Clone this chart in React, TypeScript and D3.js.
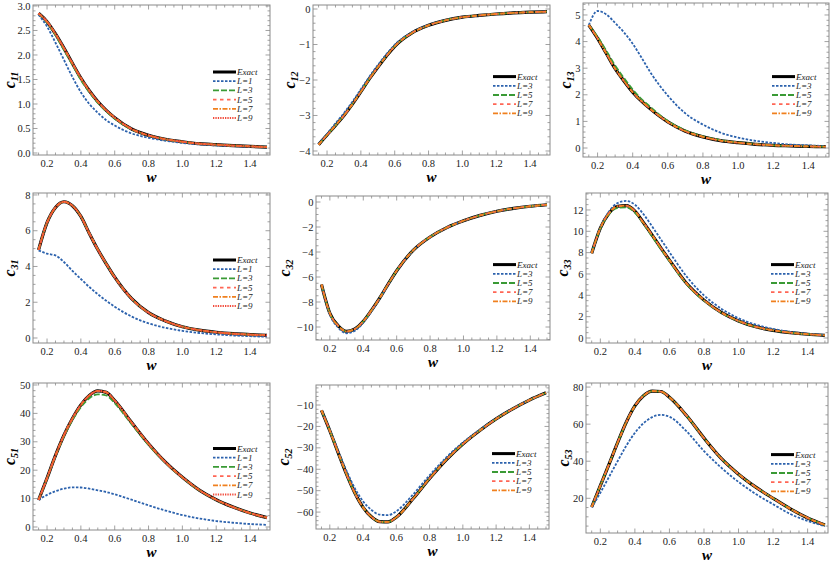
import * as d3 from "d3";
import { useRef, useEffect } from "react";

// sample points in w shared by every curve
const W = [0.15, 0.2, 0.25, 0.3, 0.35, 0.4, 0.45, 0.5, 0.55, 0.6, 0.7, 0.8, 0.9, 1.0, 1.1, 1.2, 1.3, 1.4, 1.5];

// c11
const c11Exact = [2.85, 2.68, 2.43, 2.14, 1.83, 1.53, 1.27, 1.05, 0.87, 0.72, 0.49, 0.36, 0.28, 0.23, 0.19, 0.17, 0.15, 0.135, 0.12];
const c11L1 = [2.82, 2.58, 2.25, 1.9, 1.55, 1.24, 1.0, 0.82, 0.67, 0.56, 0.4, 0.31, 0.25, 0.205, 0.175, 0.155, 0.14, 0.127, 0.117];
const c11L3 = [2.85, 2.66, 2.4, 2.1, 1.8, 1.49, 1.24, 1.02, 0.85, 0.7, 0.48, 0.355, 0.277, 0.228, 0.19, 0.17, 0.15, 0.135, 0.12];
const c11L5 = [2.85, 2.68, 2.43, 2.14, 1.83, 1.53, 1.27, 1.05, 0.87, 0.72, 0.49, 0.36, 0.28, 0.23, 0.19, 0.17, 0.15, 0.135, 0.12];

// c12
const c12Exact = [-3.82, -3.55, -3.28, -3.0, -2.68, -2.33, -1.97, -1.64, -1.33, -1.05, -0.68, -0.46, -0.32, -0.23, -0.18, -0.14, -0.11, -0.09, -0.075];
const c12L3 = [-3.8, -3.52, -3.22, -2.93, -2.61, -2.26, -1.91, -1.58, -1.28, -1.01, -0.66, -0.45, -0.315, -0.23, -0.18, -0.14, -0.11, -0.09, -0.075];

// c13
const c13Exact = [4.62, 4.12, 3.55, 2.98, 2.52, 2.1, 1.76, 1.47, 1.21, 0.98, 0.63, 0.42, 0.28, 0.2, 0.14, 0.1, 0.08, 0.06, 0.05];
const c13L3 = [4.62, 5.15, 5.02, 4.7, 4.35, 3.92, 3.4, 2.85, 2.38, 1.97, 1.3, 0.88, 0.58, 0.39, 0.27, 0.19, 0.13, 0.1, 0.07];
const c13L5 = [4.62, 4.18, 3.65, 3.1, 2.63, 2.2, 1.84, 1.55, 1.26, 1.02, 0.66, 0.44, 0.3, 0.21, 0.15, 0.1, 0.08, 0.06, 0.05];

// c31
const c31Exact = [4.93, 6.45, 7.3, 7.62, 7.4, 6.8, 5.85, 4.95, 4.15, 3.4, 2.2, 1.42, 0.95, 0.63, 0.44, 0.32, 0.24, 0.19, 0.15];
const c31L1 = [4.9, 4.72, 4.62, 4.25, 3.75, 3.3, 2.85, 2.45, 2.08, 1.75, 1.2, 0.82, 0.57, 0.4, 0.28, 0.2, 0.14, 0.1, 0.07];

// c32
const c32Exact = [-6.6, -8.9, -9.9, -10.35, -10.15, -9.55, -8.65, -7.65, -6.55, -5.5, -3.85, -2.8, -2.05, -1.5, -1.07, -0.74, -0.51, -0.34, -0.22];
const c32L3 = [-6.6, -9.0, -10.05, -10.5, -10.3, -9.65, -8.72, -7.7, -6.58, -5.52, -3.86, -2.8, -2.05, -1.5, -1.07, -0.74, -0.51, -0.34, -0.22];

// c33
const c33Exact = [7.95, 10.3, 11.7, 12.35, 12.4, 11.9, 10.8, 9.65, 8.45, 7.3, 5.1, 3.55, 2.4, 1.6, 1.05, 0.72, 0.5, 0.35, 0.25];
const c33L3 = [7.95, 10.3, 11.85, 12.65, 12.85, 12.5, 11.6, 10.45, 9.25, 8.05, 5.75, 4.0, 2.75, 1.85, 1.25, 0.85, 0.58, 0.4, 0.28];
const c33L5 = [7.95, 10.25, 11.6, 12.2, 12.25, 11.75, 10.7, 9.5, 8.35, 7.2, 5.05, 3.5, 2.37, 1.58, 1.04, 0.71, 0.5, 0.35, 0.25];

// c51
const c51Exact = [9.5, 17.2, 25.2, 32.3, 38.2, 43.0, 46.3, 47.9, 47.4, 44.5, 36.8, 29.3, 22.8, 17.5, 13.0, 9.6, 7.0, 4.9, 3.3];
const c51L1 = [9.5, 11.3, 12.6, 13.5, 13.95, 13.9, 13.5, 12.9, 12.3, 11.5, 9.6, 7.6, 5.8, 4.2, 3.0, 2.1, 1.5, 1.05, 0.75];
const c51L3 = [9.5, 17.1, 25.0, 31.9, 37.6, 42.2, 45.3, 46.7, 46.3, 43.6, 36.2, 28.9, 22.6, 17.4, 12.9, 9.5, 7.0, 4.9, 3.3];

// c52
const c52Exact = [-12.5, -22.0, -32.2, -42.2, -51.0, -57.8, -62.2, -64.5, -64.6, -62.4, -53.8, -44.3, -35.6, -28.2, -22.0, -16.5, -11.8, -7.7, -4.3];
const c52L3 = [-12.5, -21.6, -31.3, -40.6, -48.8, -55.0, -59.0, -61.2, -61.4, -59.6, -51.8, -42.8, -34.5, -27.5, -21.6, -16.3, -11.7, -7.7, -4.3];

// c53
const c53Exact = [15.3, 26.8, 38.3, 50.0, 61.0, 69.8, 75.3, 77.8, 77.6, 74.5, 64.5, 52.5, 41.5, 33.0, 26.0, 20.0, 14.3, 9.4, 5.6];
const c53L3 = [15.0, 23.0, 31.5, 40.0, 48.3, 55.3, 60.5, 63.8, 65.0, 64.0, 56.0, 45.5, 36.5, 28.8, 22.3, 16.8, 11.5, 7.8, 5.0];

// tick values
const X_TICKS = [0.2, 0.4, 0.6, 0.8, 1.0, 1.2, 1.4];
const Y_TICKS = [
  [0, 0.5, 1, 1.5, 2, 2.5, 3],
  [-4, -3, -2, -1, 0],
  [0, 1, 2, 3, 4, 5],
  [0, 2, 4, 6, 8],
  [-10, -8, -6, -4, -2, 0],
  [0, 2, 4, 6, 8, 10, 12],
  [0, 10, 20, 30, 40, 50],
  [-60, -50, -40, -30, -20, -10],
  [20, 40, 60, 80],
];
const Y_MINOR = [0.1, 0.2, 0.2, 0.5, 0.5, 0.5, 2, 2, 5];
const Y_FORMAT = [".1f", "d", "d", "d", "d", "d", "d", "d", "d"];
const SUBS = ["11", "12", "13", "31", "32", "33", "51", "52", "53"];

// (label, values) per panel; Exact is drawn first, then approximants
const SERIES = [
  [["L=1", c11L1], ["L=3", c11L3], ["L=5", c11L5], ["L=7", c11Exact], ["L=9", c11Exact]],
  [["L=3", c12L3], ["L=5", c12Exact], ["L=7", c12Exact], ["L=9", c12Exact]],
  [["L=3", c13L3], ["L=5", c13L5], ["L=7", c13Exact], ["L=9", c13Exact]],
  [["L=1", c31L1], ["L=3", c31Exact], ["L=5", c31Exact], ["L=7", c31Exact], ["L=9", c31Exact]],
  [["L=3", c32L3], ["L=5", c32Exact], ["L=7", c32Exact], ["L=9", c32Exact]],
  [["L=3", c33L3], ["L=5", c33L5], ["L=7", c33Exact], ["L=9", c33Exact]],
  [["L=1", c51L1], ["L=3", c51L3], ["L=5", c51Exact], ["L=7", c51Exact], ["L=9", c51Exact]],
  [["L=3", c52L3], ["L=5", c52Exact], ["L=7", c52Exact], ["L=9", c52Exact]],
  [["L=3", c53L3], ["L=5", c53Exact], ["L=7", c53Exact], ["L=9", c53Exact]],
];
const EXACT = [c11Exact, c12Exact, c13Exact, c31Exact, c32Exact, c33Exact, c51Exact, c52Exact, c53Exact];

// layout
const X_DOMAIN = [0.117, 1.518];
const FRAMES = [
  { l: 33, r: 270, t: 5, b: 155 }, { l: 313, r: 550, t: 5, b: 155 }, { l: 583, r: 829, t: 3, b: 157 },
  { l: 33, r: 270, t: 193, b: 343 }, { l: 316, r: 550, t: 196, b: 340 }, { l: 586, r: 828, t: 193, b: 343 },
  { l: 33, r: 270, t: 383, b: 530 }, { l: 316, r: 549, t: 385, b: 529 }, { l: 586, r: 828, t: 383, b: 533 },
];
const Y_DOMAINS = [
  [-0.041, 3.02], [-4.113, 0.113], [-0.338, 5.45],
  [-0.28, 8.11], [-11.04, 0.48], [-0.47, 13.59],
  [-1.06, 50.7], [-67.9, -0.65], [1.27, 82.2],
];
const YLABEL_X = [14.5, 295, 571, 14.5, 290, 568, 14.5, 289, 569];

const COLORS = ["#2c62ad", "#3a9a35", "#ff6655", "#f0801e", "#f24a3a"];
const DASHES = ["2.5,1.5", "6,2", "3.5,3.5", "5,1.5,1.5,1.5", "1.3,1.1"];
const FONT = "'Liberation Serif', 'Times New Roman', serif";

function App() {
  const svgRef = useRef(null);

  useEffect(() => {
    const svg = d3.select(svgRef.current);
    svg.selectAll("*").remove();

    FRAMES.forEach((f, i) => {
      const x = d3.scaleLinear().domain(X_DOMAIN).range([f.l, f.r]);
      const y = d3.scaleLinear().domain(Y_DOMAINS[i]).range([f.b, f.t]);
      const g = svg.append("g");

      const clipId = `clip${i}`;
      g.append("clipPath").attr("id", clipId)
        .append("rect").attr("x", f.l).attr("y", f.t).attr("width", f.r - f.l).attr("height", f.b - f.t);

      const line = d3.line()
        .x((d) => x(d[0]))
        .y((d) => y(d[1]))
        .curve(d3.curveMonotoneX);

      const curves = g.append("g").attr("clip-path", `url(#${clipId})`);
      curves.append("path")
        .attr("d", line(W.map((w, k) => [w, EXACT[i][k]])))
        .attr("fill", "none").attr("stroke", "#000").attr("stroke-width", 3.2);

      SERIES[i].forEach(([, vals], j) => {
        curves.append("path")
          .attr("d", line(W.map((w, k) => [w, vals[k]])))
          .attr("fill", "none")
          .attr("stroke", COLORS[j])
          .attr("stroke-width", j === 4 ? 2 : 1.8)
          .attr("stroke-dasharray", DASHES[j]);
      });

      // frame
      g.append("rect")
        .attr("x", f.l).attr("y", f.t).attr("width", f.r - f.l).attr("height", f.b - f.t)
        .attr("fill", "none").attr("stroke", "#8a8a8a").attr("stroke-width", 1);

      const ticks = g.append("g").attr("stroke", "#8a8a8a").attr("stroke-width", 0.8);
      const xMinor = d3.range(0.15, 1.5001, 0.05);
      xMinor.forEach((v) => {
        const major = X_TICKS.some((t) => Math.abs(t - v) < 1e-6);
        const len = major ? 4.5 : 2.5;
        ticks.append("line").attr("x1", x(v)).attr("x2", x(v)).attr("y1", f.b).attr("y2", f.b - len);
        ticks.append("line").attr("x1", x(v)).attr("x2", x(v)).attr("y1", f.t).attr("y2", f.t + len);
      });
      const [y0, y1] = Y_DOMAINS[i];
      const step = Y_MINOR[i];
      d3.range(Math.ceil(y0 / step) * step, y1, step).forEach((v) => {
        const major = Y_TICKS[i].some((t) => Math.abs(t - v) < 1e-6);
        const len = major ? 4.5 : 2.5;
        ticks.append("line").attr("y1", y(v)).attr("y2", y(v)).attr("x1", f.l).attr("x2", f.l + len);
        ticks.append("line").attr("y1", y(v)).attr("y2", y(v)).attr("x1", f.r).attr("x2", f.r - len);
      });

      // tick labels
      const fmtX = d3.format(".1f");
      g.append("g").selectAll("text").data(X_TICKS).join("text")
        .attr("x", (d) => x(d)).attr("y", f.b + 12)
        .attr("text-anchor", "middle")
        .attr("font-family", FONT).attr("font-size", 10.5).attr("fill", "#222")
        .text((d) => fmtX(d));
      const fmtY = d3.format(Y_FORMAT[i]);
      g.append("g").selectAll("text").data(Y_TICKS[i]).join("text")
        .attr("x", f.l - 2.5).attr("y", (d) => y(d) + 3.6)
        .attr("text-anchor", "end")
        .attr("font-family", FONT).attr("font-size", 10.5).attr("fill", "#222")
        .text((d) => fmtY(d));

      // axis labels
      g.append("text")
        .attr("x", (f.l + f.r) / 2).attr("y", f.b + 27)
        .attr("text-anchor", "middle")
        .attr("font-family", FONT).attr("font-size", 15)
        .attr("font-weight", "bold").attr("font-style", "italic")
        .text("w");
      const yl = g.append("text")
        .attr("transform", `translate(${YLABEL_X[i]},${(f.t + f.b) / 2}) rotate(-90)`)
        .attr("text-anchor", "middle")
        .attr("font-family", FONT).attr("font-weight", "bold").attr("font-style", "italic");
      yl.append("tspan").attr("font-size", 16).text("c");
      yl.append("tspan").attr("font-size", 10).attr("dy", 3).text(SUBS[i]);

      // legend
      const entries = [["Exact", null], ...SERIES[i]];
      const rowH = 9.2;
      const mid = (f.t + f.b) / 2 + 15;
      const top = mid - ((entries.length - 1) / 2) * rowH;
      const lx = f.r - 57;
      const leg = g.append("g");
      entries.forEach(([name], j) => {
        const ly = top + j * rowH;
        const ln = leg.append("line")
          .attr("x1", lx).attr("x2", lx + 23).attr("y1", ly).attr("y2", ly);
        if (j === 0) {
          ln.attr("stroke", "#000").attr("stroke-width", 3);
        } else {
          ln.attr("stroke", COLORS[j - 1]).attr("stroke-width", j === 5 ? 2 : 1.8).attr("stroke-dasharray", DASHES[j - 1]);
        }
        leg.append("text")
          .attr("x", lx + 24).attr("y", ly + 3)
          .attr("font-family", FONT).attr("font-size", 9).attr("font-style", "italic")
          .attr("fill", "#222")
          .text(name);
      });
    });
  }, []);

  return (
    <svg
      ref={svgRef}
      width={830}
      height={565}
      style={{ position: "absolute", left: 0, top: 0, background: "#fff" }}
    />
  );
}

export default App;
